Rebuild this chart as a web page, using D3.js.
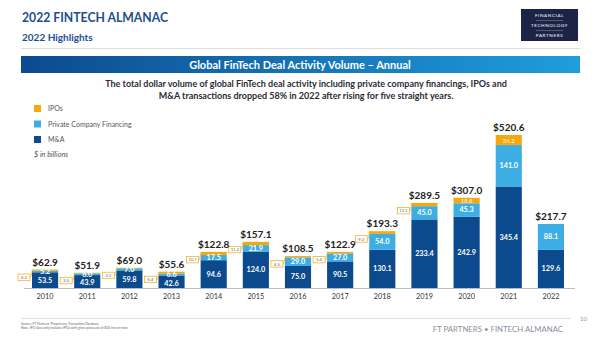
<!DOCTYPE html>
<html>
<head>
<meta charset="utf-8">
<script src="https://cdn.jsdelivr.net/npm/d3@7"></script>
<style>
  body { margin: 0; background: #fff; }
  svg text { font-family: Lato, "Open Sans", sans-serif; }
</style>
</head>
<body>
<div id="chart"></div>
<script>
// values ($ in billions)
var years = ["2010","2011","2012","2013","2014","2015","2016","2017","2018","2019","2020","2021","2022"];
var mna  = [53.5, 43.9, 59.8, 42.6, 94.6, 124.0, 75.0, 90.5, 130.1, 233.4, 242.9, 345.4, 129.6];
var pcf  = [5.2, 6.0, 7.0, 6.6, 17.5, 21.9, 29.0, 27.0, 54.0, 45.0, 45.3, 141.0, 88.1];
var ipo  = [4.2, 2.0, 2.2, 6.4, 10.7, 11.2, 4.5, 5.4, 9.2, 11.1, 18.8, 34.2, 0];
var totals = [62.9, 51.9, 69.0, 55.6, 122.8, 157.1, 108.5, 122.9, 193.3, 289.5, 307.0, 520.6, 217.7];

var legendItems = ["IPOs", "Private Company Financing", "M&A"];

var W = 600, H = 337;
var colMA = "#0b4a8c", colPCF = "#3daee3", colIPO = "#f5a70d";
var blue = "#1c4e8e";

var svg = d3.select("#chart").append("svg")
    .attr("width", W)
    .attr("height", H);

// header
svg.append("text").attr("x", 22).attr("y", 22)
    .attr("font-family", "Roboto").attr("font-weight", "bold")
    .attr("font-size", 14).attr("fill", blue)
    .attr("textLength", 146).attr("lengthAdjust", "spacingAndGlyphs")
    .text("2022 FINTECH ALMANAC");
svg.append("text").attr("x", 22).attr("y", 41)
    .attr("font-family", "Roboto").attr("font-weight", "bold")
    .attr("font-size", 10).attr("fill", blue)
    .text("2022 Highlights");

// logo box
var logo = svg.append("g").attr("transform", "translate(521,9)");
logo.append("rect").attr("width", 57).attr("height", 32).attr("fill", "#1b2447");
[["FINANCIAL", 8], ["TECHNOLOGY", 18], ["PARTNERS", 28]].forEach(function (t) {
    logo.append("text").attr("x", 28.5).attr("y", t[1])
        .attr("text-anchor", "middle")
        .attr("font-family", "DejaVu Serif").attr("font-size", 4.6)
        .attr("letter-spacing", 0.6).attr("fill", "#fff")
        .text(t[0]);
});
logo.append("line").attr("x1", 15).attr("x2", 42).attr("y1", 11.5).attr("y2", 11.5).attr("stroke", "#aab").attr("stroke-width", 0.4);
logo.append("line").attr("x1", 15).attr("x2", 42).attr("y1", 21.5).attr("y2", 21.5).attr("stroke", "#aab").attr("stroke-width", 0.4);

svg.append("line").attr("x1", 21).attr("x2", 580).attr("y1", 48.5).attr("y2", 48.5)
    .attr("stroke", "#dcdde3").attr("stroke-width", 1);

// banner
var grad = svg.append("defs").append("linearGradient").attr("id", "bannerGrad");
grad.append("stop").attr("offset", "0%").attr("stop-color", "#0c4a8e");
grad.append("stop").attr("offset", "100%").attr("stop-color", "#1f9ddd");
svg.append("rect").attr("x", 21).attr("y", 56).attr("width", 559).attr("height", 17)
    .attr("fill", "url(#bannerGrad)");
svg.append("text").attr("x", 300).attr("y", 68.5)
    .attr("text-anchor", "middle")
    .attr("font-family", "Roboto").attr("font-weight", "bold")
    .attr("font-size", 11).attr("fill", "#fff")
    .text("Global FinTech Deal Activity Volume \u2013 Annual");

// subtitle
var sub = svg.append("text").attr("text-anchor", "middle")
    .attr("font-family", "Lato").attr("font-weight", "bold")
    .attr("font-size", 9).attr("fill", "#2b2b33");
sub.append("tspan").attr("x", 306).attr("y", 87)
    .text("The total dollar volume of global FinTech deal activity including private company financings, IPOs and");
sub.append("tspan").attr("x", 306).attr("y", 98.5)
    .text("M&A transactions dropped 58% in 2022 after rising for five straight years.");

// legend
var legColors = [colIPO, colPCF, colMA];
legendItems.forEach(function (d, i) {
    svg.append("rect").attr("x", 34).attr("y", 105 + i * 15.5).attr("width", 7).attr("height", 7)
        .attr("fill", legColors[i]);
    svg.append("text").attr("x", 48).attr("y", 111 + i * 15.5)
        .attr("font-size", 7).attr("fill", "#555")
        .text(d);
});
svg.append("text").attr("x", 34).attr("y", 157)
    .attr("font-size", 7.3).attr("font-style", "italic").attr("fill", "#555")
    .text("$ in billions");

// scales
var x = d3.scaleBand().domain(years).range([24, 572]).paddingInner(0.38).paddingOuter(0.19);
var y = d3.scaleLinear().domain([0, d3.max(totals)]).range([288, 135]);

var rows = years.map(function (yr, i) {
    return {year: yr, ma: mna[i], pcf: pcf[i], ipo: ipo[i], total: totals[i]};
});
var stack = d3.stack().keys(["ma", "pcf", "ipo"])(rows);
var colors = {ma: colMA, pcf: colPCF, ipo: colIPO};

var g = svg.append("g");
stack.forEach(function (layer) {
    g.selectAll(null).data(layer).enter().append("rect")
        .attr("x", function (d) { return x(d.data.year); })
        .attr("width", x.bandwidth())
        .attr("y", function (d) { return y(d[1]); })
        .attr("height", function (d) { return y(d[0]) - y(d[1]); })
        .attr("fill", colors[layer.key]);
});

// segment label centres; thin PCF segments push the M&A label down a bit
function midY(d) { return (y(d[0]) + y(d[1])) / 2; }
var pcfMid = stack[1].map(midY);
var labelMid = {
    ma: stack[0].map(function (d, i) { return Math.max(midY(d), pcfMid[i] + 8.6); }),
    pcf: pcfMid,
    ipo: stack[2].map(midY)
};

stack.forEach(function (layer) {
    g.selectAll(null).data(layer.filter(function (d) {
        if (layer.key != "ipo") return true;
        return d.data.ipo > 0 && (y(d[0]) - y(d[1])) >= 5;
    })).enter().append("text")
        .attr("x", function (d) { return x(d.data.year) + x.bandwidth() / 2; })
        .attr("y", function (d) { return labelMid[layer.key][years.indexOf(d.data.year)] + 2.5; })
        .attr("text-anchor", "middle")
        .attr("font-size", layer.key == "ipo" ? 6 : 7.3)
        .attr("font-weight", "bold")
        .attr("fill", layer.key == "ipo" ? "#fde9c0" : "#fff")
        .text(function (d) { return d.data[layer.key].toFixed(1); });
});

// small IPO values go into callout boxes on the left
var callouts = rows.filter(function (d) {
    return d.ipo > 0 && (y(0) - y(d.ipo)) < 5;
});
var cg = g.selectAll(null).data(callouts).enter().append("g");
cg.append("polyline")
    .attr("points", function (d) {
        var bx = x(d.year), by = y(d.total) + 7.5;
        return [[bx - 2, by], [bx - 1, by], [bx, y(d.total) + 1]].join(" ");
    })
    .attr("fill", "none").attr("stroke", colIPO).attr("stroke-width", 0.6);
cg.append("rect")
    .attr("x", function (d) { return x(d.year) - 14; })
    .attr("y", function (d) { return y(d.total) + 4.5; })
    .attr("width", 12).attr("height", 6.5)
    .attr("fill", "#fff").attr("stroke", colIPO).attr("stroke-width", 0.7);
cg.append("text")
    .attr("x", function (d) { return x(d.year) - 8; })
    .attr("y", function (d) { return y(d.total) + 9.5; })
    .attr("text-anchor", "middle")
    .attr("font-size", 4.2).attr("fill", "#666")
    .text(function (d) { return d.ipo.toFixed(1); });

// totals
g.selectAll(null).data(rows).enter().append("text")
    .attr("x", function (d) { return x(d.year) + x.bandwidth() / 2; })
    .attr("y", function (d) { return y(d.total) - 4; })
    .attr("text-anchor", "middle")
    .attr("font-size", 10).attr("font-weight", "bold").attr("fill", "#222")
    .text(function (d) { return "$" + d.total.toFixed(1); });

// x axis
var xAxis = svg.append("g").attr("transform", "translate(0,288)")
    .call(d3.axisBottom(x).tickSize(0).tickPadding(6));
xAxis.select(".domain").attr("d", "M24,0.5H575").attr("stroke", "#bbb");
xAxis.selectAll("text").attr("font-family", "Lato").attr("font-size", 7.3).attr("fill", "#333");

// footer
svg.append("line").attr("x1", 21).attr("x2", 571).attr("y1", 318.5).attr("y2", 318.5)
    .attr("stroke", "#dcdde3").attr("stroke-width", 1.2);
svg.append("text").attr("x", 580).attr("y", 321).attr("font-size", 6).attr("fill", "#999").text("10");
svg.append("text").attr("x", 21).attr("y", 325).attr("font-size", 3.3).attr("fill", "#666")
    .text("Source: FT Partners' Proprietary Transaction Database");
svg.append("text").attr("x", 21).attr("y", 329).attr("font-size", 3.3).attr("fill", "#666")
    .text("Note: IPO data only includes IPOs with gross proceeds of $30 mm or more");
svg.append("text").attr("x", 563).attr("y", 332).attr("text-anchor", "end")
    .attr("font-family", "Roboto").attr("font-size", 7.8).attr("fill", "#8a8f99")
    .text("FT PARTNERS \u2022 FINTECH ALMANAC");
</script>
</body>
</html>
